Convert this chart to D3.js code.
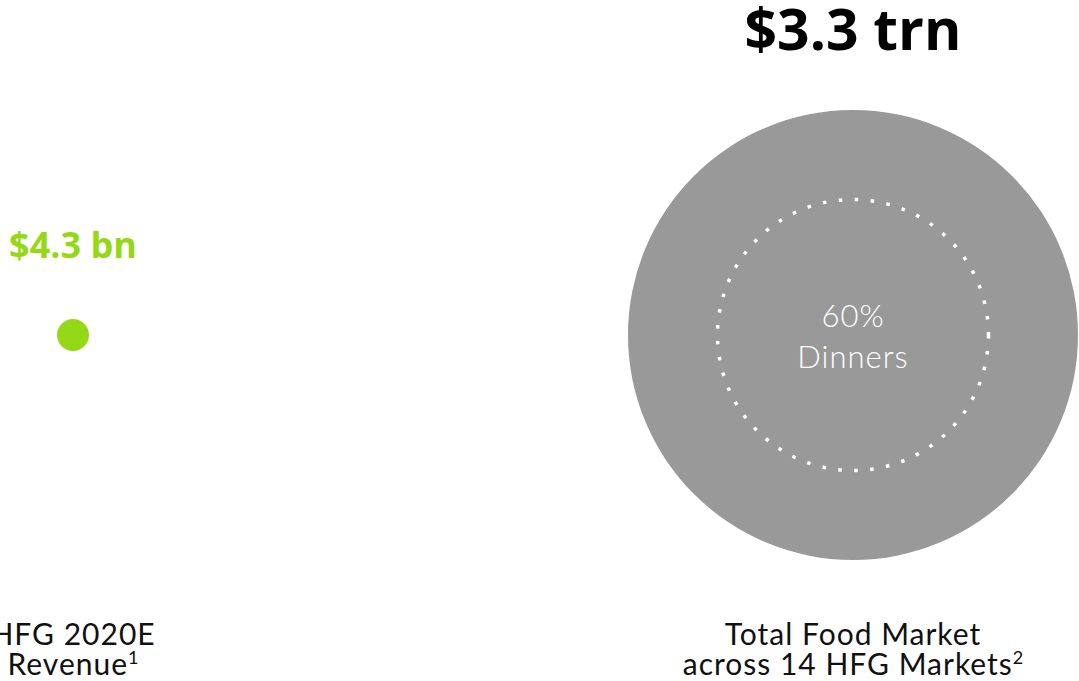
<!DOCTYPE html>
<html>
<head>
<meta charset="utf-8">
<script src="https://cdn.jsdelivr.net/npm/d3@7"></script>
<style>
  html, body { margin: 0; padding: 0; background: #fff; }
  svg { display: block; }
</style>
</head>
<body>
<svg id="chart" width="1079" height="681"></svg>
<script>
// Market sizes in USD billions
const categories = ["HFG 2020E Revenue", "Total Food Market across 14 HFG Markets"];
const valuesBn = [4.3, 3300];
const valueLabels = ["$4.3 bn", "$3.3 trn"];
const labelLines = [["HFG 2020E", "Revenue", "1"], ["Total Food Market", "across 14 HFG Markets", "2"]];
const dinnerLabel = ["60%", "Dinners"];

const W = 1079, H = 681;
const svg = d3.select("#chart");

const colors = ["#95D816", "#999999"];
const valueColors = ["#95D816", "#000000"];

// horizontal placement of the two bubbles
const x = d3.scalePoint().domain(categories).range([73, 853]);
const cy = 335;
// bubble radius on a log scale so the small value remains visible
const r = d3.scaleLog().domain([4.3, 3300]).range([16, 225]);

const data = categories.map((c, i) => ({ c, v: valuesBn[i], label: valueLabels[i], lines: labelLines[i], i }));

svg.selectAll("circle.bubble").data(data).join("circle")
  .attr("class", "bubble")
  .attr("cx", d => x(d.c))
  .attr("cy", cy)
  .attr("r", d => r(d.v))
  .attr("fill", d => colors[d.i]);

// value labels above each bubble
svg.selectAll("text.value").data(data).join("text")
  .attr("class", "value")
  .attr("x", d => x(d.c))
  .attr("y", d => d.i === 0 ? 258 : 50)
  .attr("text-anchor", "middle")
  .attr("font-family", "'Open Sans', sans-serif")
  .attr("font-weight", 700)
  .attr("font-size", d => d.i === 0 ? 36 : 57)
  .attr("letter-spacing", d => d.i === 0 ? 0 : 0)
  .attr("fill", d => valueColors[d.i])
  .text(d => d.label);

// dotted ring marking the dinner segment inside the big bubble
const big = data[1];
svg.append("circle")
  .attr("cx", x(big.c))
  .attr("cy", cy)
  .attr("r", 135.5)
  .attr("fill", "none")
  .attr("stroke", "#fff")
  .attr("stroke-width", 3.5)
  .attr("stroke-dasharray", "3.5 12.5");

svg.append("text")
  .attr("x", x(big.c))
  .attr("text-anchor", "middle")
  .attr("font-family", "Lato, sans-serif")
  .attr("font-weight", 300)
  .attr("font-size", 31)
  .attr("letter-spacing", 1)
  .attr("fill", "#fff")
  .selectAll("tspan").data(dinnerLabel).join("tspan")
  .attr("x", x(big.c))
  .attr("y", (d, i) => 327 + i * 41)
  .text(d => d);

// category labels below each bubble
const lab = svg.selectAll("text.cat").data(data).join("text")
  .attr("class", "cat")
  .attr("text-anchor", "middle")
  .attr("font-family", "Lato, sans-serif")
  .attr("font-size", 30)
  .attr("letter-spacing", 1)
  .attr("fill", "#111");
lab.append("tspan")
  .attr("x", d => x(d.c))
  .attr("y", 645)
  .text(d => d.lines[0]);
lab.append("tspan")
  .attr("x", d => x(d.c))
  .attr("y", 675)
  .text(d => d.lines[1]);
lab.append("tspan")
  .attr("dy", -11)
  .attr("font-size", 18)
  .attr("letter-spacing", 0)
  .text(d => d.lines[2]);
</script>
</body>
</html>
